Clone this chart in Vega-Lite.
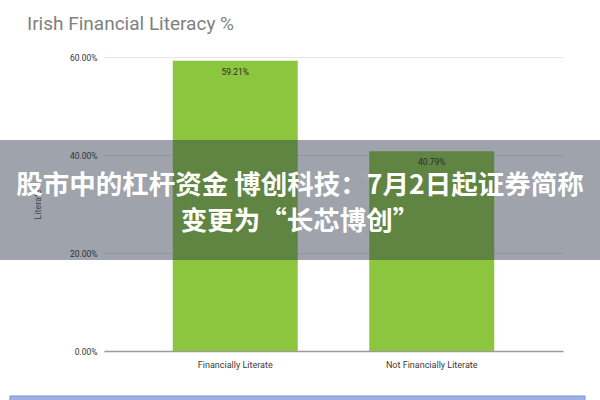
{
  "$schema": "https://vega.github.io/schema/vega-lite/v6.json",
  "width": 459,
  "height": 294,
  "autosize": {"type": "none"},
  "padding": {"left": 104, "top": 57, "right": 37, "bottom": 49},
  "background": "white",
  "config": {"view": {"stroke": null}, "font": "Roboto"},
  "title": {
    "text": "Irish Financial Literacy %",
    "anchor": "start",
    "frame": "group",
    "dx": -77,
    "offset": 19,
    "fontSize": 19,
    "fontWeight": "normal",
    "color": "#808080",
    "font": "Roboto"
  },
  "layer": [
    {
      "data": {
        "values": [
          {"category": "Financially Literate", "share": 0.5921},
          {"category": "Not Financially Literate", "share": 0.4079}
        ]
      },
      "encoding": {
        "x": {
          "field": "category",
          "type": "nominal",
          "sort": null,
          "scale": {"paddingInner": 0.364, "paddingOuter": 0.35},
          "axis": {
            "title": null,
            "labelAngle": 0,
            "ticks": false,
            "domainColor": "#9a9a9a",
            "domainWidth": 1.5,
            "labelPadding": 9,
            "labelFontSize": 9,
            "labelColor": "#3a3a3a"
          }
        },
        "y": {
          "field": "share",
          "type": "quantitative",
          "scale": {"domain": [0, 0.6]},
          "axis": {
            "title": "Literate",
            "values": [0, 0.2, 0.4, 0.6],
            "format": ".2%",
            "domain": false,
            "ticks": false,
            "labelPadding": 7,
            "labelFontSize": 8.5,
            "labelColor": "#333333",
            "gridColor": "#e6e6e6",
            "titleFontSize": 9,
            "titleFontWeight": "normal",
            "titleColor": "#555555",
            "titlePadding": 27
          }
        }
      },
      "layer": [
        {"mark": {"type": "bar", "color": "#8cc63f"}},
        {
          "mark": {"type": "text", "baseline": "top", "dy": 7, "fontSize": 8.5, "color": "#2a2a2a"},
          "encoding": {"text": {"field": "share", "type": "quantitative", "format": ".2%"}}
        }
      ]
    },
    {
      "data": {"values": [{"headline": "股市中的杠杆资金 博创科技：7月2日起证券简称\n变更为“长芯博创”"}]},
      "layer": [
        {
          "mark": {"type": "rect", "color": "#2a3444", "opacity": 0.45},
          "encoding": {
            "x": {"datum": -0.2266, "type": "quantitative", "scale": {"domain": [0, 1]}, "axis": null},
            "x2": {"datum": 1.0806},
            "y": {"datum": 0.4306, "type": "quantitative", "scale": {"domain": [0, 0.6]}, "axis": null},
            "y2": {"datum": 0.1857}
          }
        },
        {
          "mark": {"type": "rect", "color": "#9db0e6", "stroke": "#8196d8", "strokeWidth": 1},
          "encoding": {
            "x": {"datum": -0.205, "type": "quantitative"},
            "x2": {"datum": 1.048},
            "y": {"datum": -0.0918, "type": "quantitative"},
            "y2": {"datum": -0.105}
          }
        },
        {
          "mark": {
            "type": "text",
            "lineBreak": "\n",
            "lineHeight": 36,
            "baseline": "middle",
            "align": "center",
            "fontSize": 26.5,
            "fontWeight": "bold",
            "font": "Noto Sans CJK SC",
            "color": "white"
          },
          "encoding": {
            "x": {"datum": 0.427, "type": "quantitative"},
            "y": {"datum": 0.337, "type": "quantitative"},
            "text": {"field": "headline"}
          }
        }
      ]
    }
  ],
  "resolve": {"scale": {"x": "independent", "y": "independent"}}
}
